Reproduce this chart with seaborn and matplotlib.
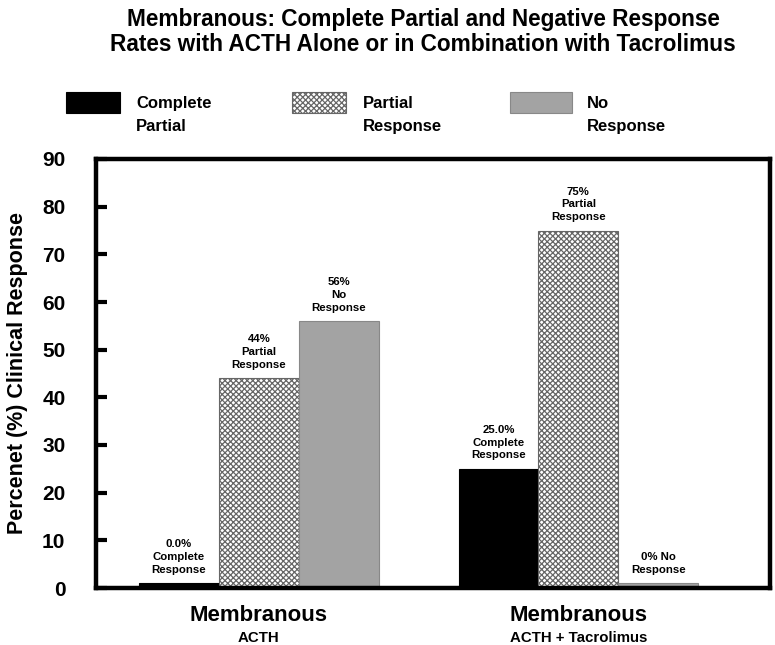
import matplotlib
matplotlib.use("Agg")
import matplotlib.pyplot as plt
import seaborn as sns
import pandas as pd
from matplotlib.patches import Rectangle

groups = ["Membranous\nACTH", "Membranous\nACTH + Tacrolimus"]
group_main = ["Membranous", "Membranous"]
group_sub = ["ACTH", "ACTH + Tacrolimus"]
series = ["Complete", "Partial", "None"]
legend_labels = ["Complete\nPartial", "Partial\nResponse", "No\nResponse"]
acth = [1, 44, 56]
acth_tac = [25, 75, 1]
acth_text = ["0.0%\nComplete\nResponse", "44%\nPartial\nResponse", "56%\nNo\nResponse"]
acth_tac_text = ["25.0%\nComplete\nResponse", "75%\nPartial\nResponse", "0% No\nResponse"]
yticks = [0, 10, 20, 30, 40, 50, 60, 70, 80, 90]

sns.set_theme(style="white")
plt.rcParams['font.family'] = ['Liberation Sans', 'DejaVu Sans']
plt.rcParams['hatch.linewidth'] = 0.9
plt.rcParams['hatch.color'] = '#333333'
for k in ['text.color', 'axes.labelcolor', 'xtick.color', 'ytick.color']:
    plt.rcParams[k] = 'black'

df = pd.DataFrame({
    "group": [groups[0]] * 3 + [groups[1]] * 3,
    "series": series * 2,
    "value": acth + acth_tac,
    "label": acth_text + acth_tac_text,
})

fig = plt.figure(figsize=(7.75, 6.45), dpi=100)
ax = fig.add_axes([96 / 775, 1 - 588 / 645, (770 - 96) / 775, (588 - 159) / 645])

colors = {"Complete": "#000000", "Partial": "#ffffff", "None": "#a3a3a3"}
sns.barplot(data=df, x="group", y="value", hue="series", hue_order=series,
            palette=colors, width=0.75, ax=ax, legend=False, saturation=1,
            edgecolor="#888888", linewidth=0.8)

for i, cont in enumerate(ax.containers):
    for bar in cont:
        if series[i] == "Partial":
            bar.set_hatch("xxxxxx")
            bar.set_edgecolor("#666666")
        elif series[i] == "Complete":
            bar.set_edgecolor("#000000")

texts_by_series = [[acth_text[k], acth_tac_text[k]] for k in range(3)]
for i, cont in enumerate(ax.containers):
    ax.bar_label(cont, labels=texts_by_series[i], padding=6, fontsize=8.2,
                 fontweight="bold", color="black", linespacing=1.35)

ax.set_ylim(0, 90)
ax.set_xlim(-0.51, 1.6)
ax.set_yticks(yticks)
ax.set_yticklabels([str(t) for t in yticks], fontsize=15, fontweight="bold")
ax.tick_params(axis="y", direction="in", length=8, width=3, pad=22, left=True)
ax.tick_params(axis="x", bottom=False, length=0)
ax.set_xticks([0, 1])
ax.set_xticklabels([])
for s in ax.spines.values():
    s.set_visible(True)
    s.set_linewidth(3.2)
    s.set_color("black")
ax.set_xlabel("")
ax.set_ylabel("Percenet (%) Clinical Response", fontsize=15.5, fontweight="bold")
ax.yaxis.set_label_coords((28 - 96) / 674, 0.5)

for k in range(2):
    ax.annotate(group_main[k], xy=(k, 0), xycoords=("data", "axes fraction"),
                xytext=(0, -12), textcoords="offset points", ha="center", va="top",
                fontsize=16, fontweight="bold")
    ax.annotate(group_sub[k], xy=(k, 0), xycoords=("data", "axes fraction"),
                xytext=(0, -31), textcoords="offset points", ha="center", va="top",
                fontsize=10.8, fontweight="bold")

fig.text(423 / 775, 1 - 8 / 645,
         "Membranous: Complete Partial and Negative Response\nRates with ACTH Alone or in Combination with Tacrolimus",
         ha="center", va="top", fontsize=16.3, fontweight="bold",
         family=['Liberation Sans Narrow', 'Liberation Sans', 'DejaVu Sans'], linespacing=1.1)

# legend swatches
sw_x = [66, 292, 510]
sw_w = [54, 54, 62]
txt_x = [136, 363, 587]
styles = [dict(facecolor="#000000", edgecolor="#000000"),
          dict(facecolor="#ffffff", edgecolor="#666666", hatch="xxxxxx"),
          dict(facecolor="#a3a3a3", edgecolor="#888888")]
for k in range(3):
    r = Rectangle((sw_x[k] / 775, 1 - 113 / 645), sw_w[k] / 775, 21 / 645,
                  transform=fig.transFigure, linewidth=0.8, **styles[k])
    fig.patches.append(r)
    fig.text(txt_x[k] / 775, 1 - 96 / 645, legend_labels[k], ha="left", va="top",
             fontsize=12, fontweight="bold", linespacing=1.65)

fig.savefig("out.png", dpi=100)
